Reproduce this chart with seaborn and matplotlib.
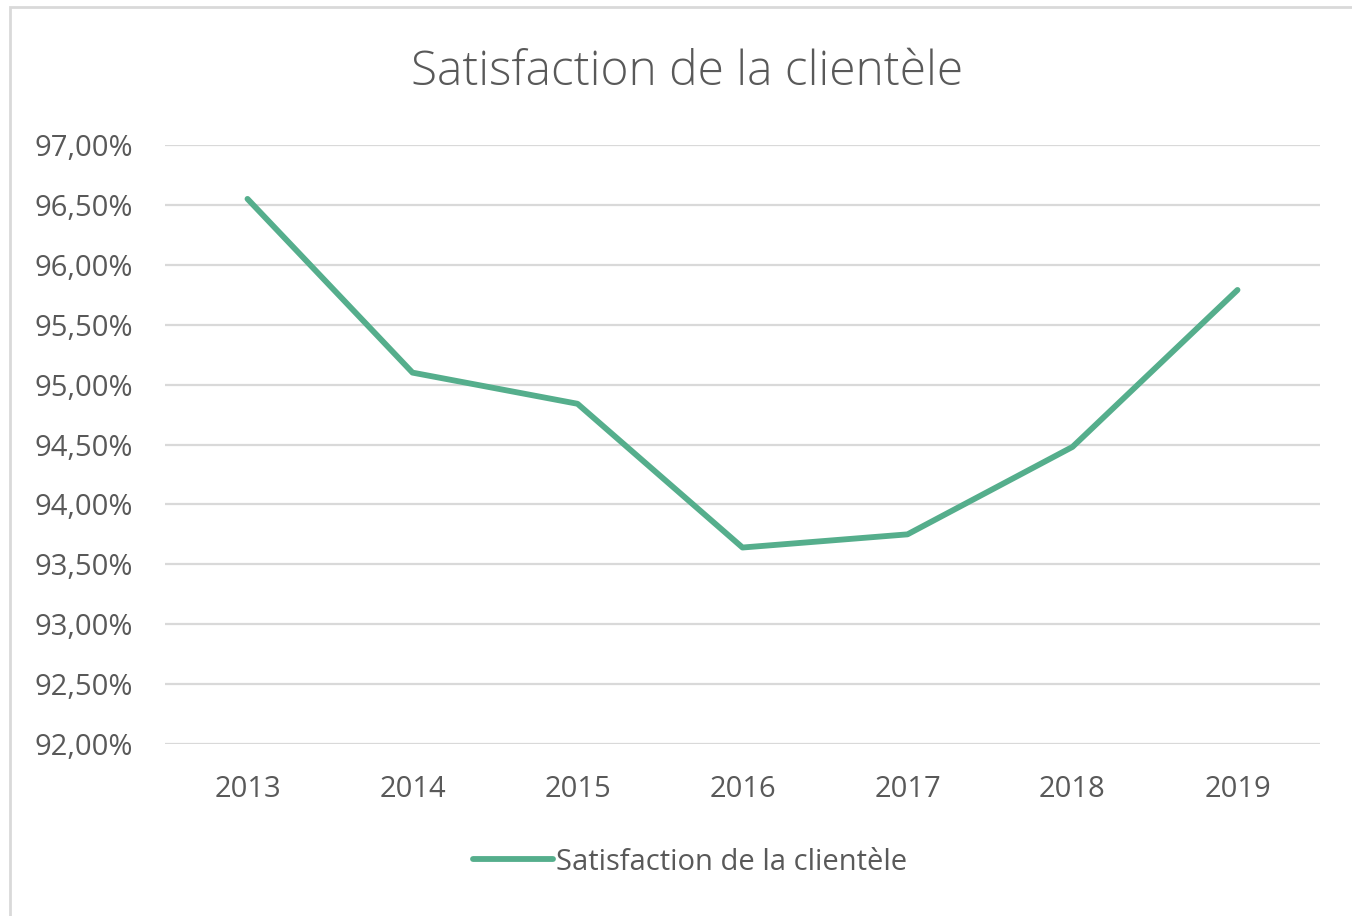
import matplotlib
matplotlib.use("Agg")
import matplotlib.pyplot as plt
import matplotlib.patches as mpatches
from matplotlib.ticker import FuncFormatter, MultipleLocator
import seaborn as sns
import pandas as pd

years = ["2013", "2014", "2015", "2016", "2017", "2018", "2019"]
satisfaction = [96.55, 95.10, 94.84, 93.64, 93.75, 94.48, 95.79]
series_name = "Satisfaction de la clientèle"
title = "Satisfaction de la clientèle"

df = pd.DataFrame({"Année": years, "Valeur": satisfaction, "Série": series_name})

sns.set_theme(style="white")
plt.rcParams['font.family'] = ['Open Sans', 'DejaVu Sans']

fig = plt.figure(figsize=(13.52, 9.16), dpi=100)
ax = fig.add_axes([165/1352, (916-744)/916, (1320-165)/1352, (744-145)/916])

sns.lineplot(data=df, x="Année", y="Valeur", hue="Série", palette=["#55AE8C"],
             linewidth=4.2, ax=ax, sort=False)

ax.set_xlim(-0.5, 6.5)
ax.set_ylim(92.0, 97.0)
ax.yaxis.set_major_locator(MultipleLocator(0.5))
ax.yaxis.set_major_formatter(FuncFormatter(lambda v, p: f"{v:.2f}".replace(".", ",") + "%"))
ax.grid(axis="y", color="#D9D9D9", linewidth=1.6)
ax.set_axisbelow(True)
for s in ax.spines.values():
    s.set_visible(False)
ax.set_xlabel("")
ax.set_ylabel("")
ax.tick_params(axis="both", length=0, labelsize=21, colors="#595959")
ax.tick_params(axis="y", pad=23)
ax.tick_params(axis="x", pad=22)

fig.text(0.508, 1 - 73/916, title, ha="center", va="center", fontsize=34.5, color="#595959",
         fontweight="light")

leg = ax.legend(loc="center", bbox_to_anchor=(690/1352, 1 - 862/916), bbox_transform=fig.transFigure,
                frameon=False, fontsize=21, handlelength=2.75, handletextpad=0.1)
for t in leg.get_texts():
    t.set_color("#595959")

fig.patches.append(mpatches.Rectangle((10/1352, -0.01), 1.1, 1 - 7/916 + 0.01, transform=fig.transFigure,
                                      fill=False, edgecolor="#D9D9D9", linewidth=2))

fig.savefig("out.png", dpi=100, facecolor="white")
